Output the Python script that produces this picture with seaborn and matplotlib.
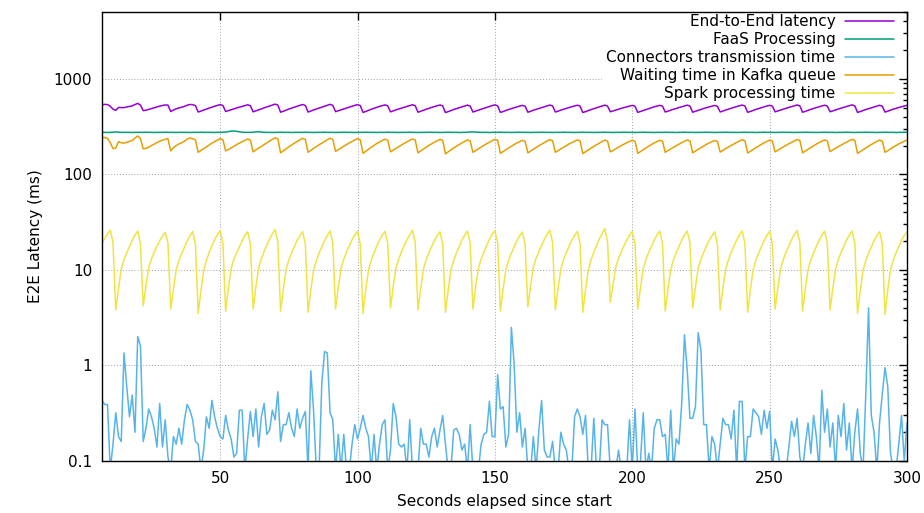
import pandas as pd
import matplotlib
matplotlib.use('Agg')
import matplotlib.pyplot as plt
import seaborn as sns
from matplotlib.ticker import LogLocator, FuncFormatter, NullFormatter, NullLocator, FixedLocator

# one sample per second, 7 s .. 300 s
seconds = list(range(7, 301))

e2e_ms = [
    535, 540, 537, 516, 481,
    467, 501, 499, 500, 507, 514, 521, 538, 553, 530,
    464, 469, 478, 488, 497, 508, 517, 526, 532, 530,
    455, 471, 485, 496, 504, 514, 529, 538, 536, 524,
    449, 459, 471, 482, 493, 505, 516, 526, 537, 525,
    455, 464, 474, 485, 495, 504, 514, 524, 534, 523,
    451, 462, 474, 484, 496, 507, 519, 531, 543, 531,
    447, 457, 470, 482, 493, 505, 515, 527, 538, 526,
    449, 459, 472, 482, 494, 504, 516, 528, 540, 527,
    453, 463, 474, 485, 495, 506, 517, 527, 536, 524,
    445, 455, 468, 480, 491, 503, 514, 524, 533, 522,
    451, 461, 473, 483, 494, 504, 515, 525, 535, 523,
    447, 457, 469, 480, 491, 502, 512, 523, 532, 521,
    443, 453, 465, 477, 487, 498, 508, 519, 530, 518,
    449, 459, 470, 481, 491, 502, 513, 524, 533, 522,
    445, 454, 466, 477, 487, 497, 508, 518, 527, 516,
    447, 457, 469, 479, 490, 500, 511, 522, 531, 520,
    449, 458, 470, 480, 490, 501, 510, 520, 529, 518,
    444, 453, 465, 476, 486, 497, 508, 519, 530, 518,
    452, 460, 471, 480, 491, 500, 510, 519, 527, 516,
    445, 455, 466, 477, 487, 498, 509, 518, 527, 517,
    449, 458, 469, 480, 489, 500, 509, 520, 530, 518,
    447, 457, 468, 478, 488, 499, 508, 518, 526, 515,
    450, 459, 471, 481, 491, 501, 512, 521, 531, 519,
    446, 455, 467, 478, 488, 499, 509, 519, 528, 517,
    451, 461, 471, 482, 491, 502, 512, 522, 532, 520,
    447, 456, 468, 479, 489, 500, 510, 520, 529, 518,
    452, 461, 472, 483, 492, 503, 513, 523, 533, 521,
    445, 454, 466, 477, 487, 497, 508, 519, 528, 517,
    448, 458, 470, 481, 490, 501, 510, 520, 528,
]

faas_ms = [
    275, 275, 274, 275, 276, 278, 276, 275, 275, 275,
    275, 274, 275, 275, 275, 275, 276, 275, 275, 274,
    275, 275, 275, 276, 275, 275, 275, 274, 275, 275,
    275, 275, 274, 275, 275, 275, 276, 275, 275, 275,
    275, 274, 275, 275, 276, 277, 280, 283, 284, 282,
    279, 276, 275, 275, 275, 276, 278, 279, 277, 275,
    275, 275, 274, 275, 275, 276, 275, 275, 275, 274,
    275, 275, 275, 275, 276, 275, 275, 274, 275, 275,
    275, 276, 275, 275, 275, 274, 275, 275, 276, 275,
    275, 275, 274, 275, 275, 275, 276, 275, 275, 275,
    274, 275, 275, 275, 276, 275, 275, 275, 274, 275,
    275, 275, 276, 275, 275, 274, 275, 275, 275, 276,
    275, 275, 275, 274, 275, 275, 276, 275, 275, 275,
    274, 275, 275, 276, 277, 278, 277, 276, 275, 275,
    275, 274, 275, 275, 275, 276, 275, 275, 275, 274,
    275, 275, 276, 275, 275, 275, 274, 275, 275, 275,
    276, 275, 275, 275, 274, 275, 275, 275, 276, 275,
    275, 275, 274, 275, 275, 276, 275, 275, 275, 274,
    275, 275, 275, 276, 275, 275, 274, 275, 275, 275,
    276, 275, 275, 275, 274, 275, 275, 276, 275, 275,
    275, 274, 275, 275, 275, 276, 275, 275, 275, 274,
    275, 275, 276, 275, 275, 275, 274, 275, 275, 275,
    276, 275, 275, 274, 275, 275, 275, 276, 275, 275,
    275, 274, 275, 275, 276, 275, 275, 275, 274, 275,
    275, 276, 275, 275, 275, 274, 275, 275, 276, 275,
    275, 275, 274, 275, 275, 275, 276, 275, 275, 275,
    274, 275, 275, 276, 275, 275, 275, 274, 275, 275,
    275, 276, 275, 275, 274, 275, 275, 275, 276, 275,
    275, 275, 274, 275, 275, 276, 275, 275, 275, 274,
    275, 275, 276, 275,
]

# values under 0.1 fall below the axis floor, as in the original
connectors_ms = [
    0.43, 0.39, 0.39, 0.08, 0.15, 0.32, 0.18, 0.16, 1.35, 0.6,
    0.29, 0.49, 0.2, 2.0, 1.6, 0.16, 0.22, 0.35, 0.29, 0.22,
    0.14, 0.40, 0.14, 0.27, 0.11, 0.08, 0.18, 0.15, 0.22, 0.15,
    0.27, 0.39, 0.34, 0.27, 0.16, 0.15, 0.08, 0.13, 0.29, 0.22,
    0.43, 0.29, 0.22, 0.18, 0.17, 0.30, 0.21, 0.17, 0.11, 0.12,
    0.34, 0.34, 0.08, 0.17, 0.33, 0.18, 0.35, 0.14, 0.29, 0.40,
    0.19, 0.21, 0.34, 0.27, 0.53, 0.16, 0.24, 0.24, 0.32, 0.22,
    0.18, 0.35, 0.22, 0.28, 0.33, 0.08, 0.88, 0.34, 0.08, 0.08,
    0.65, 1.4, 1.35, 0.32, 0.27, 0.08, 0.19, 0.08, 0.19, 0.08,
    0.08, 0.15, 0.24, 0.17, 0.22, 0.30, 0.22, 0.18, 0.08, 0.19,
    0.08, 0.15, 0.24, 0.27, 0.08, 0.13, 0.40, 0.29, 0.15, 0.14,
    0.15, 0.08, 0.27, 0.08, 0.08, 0.08, 0.22, 0.15, 0.15, 0.11,
    0.18, 0.22, 0.14, 0.21, 0.30, 0.15, 0.08, 0.08, 0.21, 0.22,
    0.19, 0.13, 0.15, 0.08, 0.24, 0.08, 0.08, 0.08, 0.15, 0.19,
    0.20, 0.42, 0.18, 0.18, 0.8, 0.35, 0.37, 0.14, 0.19, 2.5,
    1.05, 0.20, 0.32, 0.14, 0.22, 0.08, 0.08, 0.18, 0.08, 0.21,
    0.43, 0.13, 0.11, 0.11, 0.16, 0.08, 0.08, 0.20, 0.15, 0.13,
    0.08, 0.08, 0.29, 0.35, 0.29, 0.19, 0.30, 0.08, 0.08, 0.28,
    0.08, 0.08, 0.27, 0.24, 0.24, 0.08, 0.08, 0.08, 0.13, 0.08,
    0.08, 0.08, 0.27, 0.08, 0.35, 0.08, 0.1, 0.32, 0.08, 0.12,
    0.08, 0.22, 0.27, 0.27, 0.18, 0.19, 0.08, 0.34, 0.08, 0.17,
    0.15, 0.40, 2.1, 0.9, 0.28, 0.28, 0.37, 2.2, 1.45, 0.24,
    0.24, 0.08, 0.18, 0.15, 0.08, 0.15, 0.28, 0.24, 0.24, 0.17,
    0.34, 0.08, 0.42, 0.42, 0.08, 0.18, 0.18, 0.35, 0.32, 0.29,
    0.19, 0.34, 0.22, 0.33, 0.08, 0.17, 0.13, 0.08, 0.08, 0.08,
    0.14, 0.26, 0.18, 0.28, 0.11, 0.08, 0.15, 0.25, 0.12, 0.3,
    0.18, 0.08, 0.55, 0.2, 0.35, 0.14, 0.25, 0.08, 0.3, 0.18,
    0.4, 0.13, 0.25, 0.08, 0.2, 0.35, 0.12, 0.08, 0.5, 4.0,
    0.3, 0.2, 0.08, 0.25, 0.5, 0.95, 0.6, 0.12, 0.08, 0.08,
    0.15, 0.3, 0.1, 0.25,
]

kafka_ms = [
    241, 243, 238, 215, 186,
    188, 220, 214, 212, 217, 221, 226, 240, 252, 236,
    185, 187, 192, 200, 207, 215, 222, 228, 232, 236,
    176, 190, 200, 208, 214, 222, 234, 240, 236, 230,
    170, 178, 186, 194, 203, 212, 220, 228, 236, 231,
    176, 182, 189, 197, 205, 212, 219, 226, 234, 229,
    172, 180, 188, 196, 205, 214, 223, 232, 241, 236,
    168, 176, 185, 194, 203, 212, 220, 229, 238, 232,
    170, 178, 187, 195, 204, 212, 221, 230, 239, 233,
    174, 181, 189, 197, 205, 213, 221, 229, 236, 230,
    166, 174, 183, 192, 201, 210, 218, 226, 233, 228,
    172, 179, 187, 195, 203, 211, 219, 227, 234, 229,
    168, 176, 184, 192, 201, 209, 217, 225, 232, 227,
    164, 172, 180, 189, 197, 205, 213, 221, 229, 224,
    170, 177, 185, 193, 201, 209, 217, 225, 232, 228,
    166, 173, 181, 189, 197, 205, 213, 220, 227, 222,
    168, 175, 183, 191, 199, 207, 215, 223, 230, 225,
    170, 177, 185, 192, 200, 208, 215, 222, 229, 224,
    165, 172, 180, 188, 196, 204, 212, 220, 228, 223,
    172, 178, 185, 192, 200, 207, 214, 221, 227, 222,
    166, 173, 181, 189, 197, 205, 213, 220, 227, 223,
    170, 177, 184, 192, 199, 207, 214, 222, 229, 224,
    168, 175, 183, 190, 198, 206, 213, 220, 226, 221,
    171, 178, 186, 193, 201, 208, 216, 223, 230, 225,
    167, 174, 182, 190, 198, 206, 214, 221, 228, 223,
    172, 179, 186, 194, 201, 209, 216, 224, 231, 226,
    168, 175, 183, 191, 199, 207, 215, 222, 229, 224,
    173, 180, 187, 195, 202, 210, 217, 225, 232, 227,
    166, 173, 181, 189, 197, 205, 213, 221, 228, 223,
    170, 177, 185, 193, 200, 208, 215, 222, 228,
]

spark_ms = [
    19.0, 21.5, 23.8, 26.0, 19.5,
    3.8, 6.4, 10.2, 12.8, 15.1, 17.6, 20.4, 23.1, 25.5, 18.8,
    4.2, 6.8, 10.6, 13.0, 15.3, 17.8, 20.2, 22.6, 24.8, 19.2,
    3.9, 6.2, 10.0, 12.5, 14.8, 17.2, 20.0, 22.8, 25.2, 18.5,
    3.5, 6.0, 9.8, 12.6, 15.2, 17.9, 20.8, 23.4, 25.8, 19.0,
    3.7, 6.5, 10.3, 12.9, 15.0, 17.4, 20.1, 22.9, 25.0, 18.9,
    3.9, 6.6, 10.5, 13.1, 15.6, 18.2, 21.0, 23.9, 26.5, 19.6,
    3.7, 6.3, 10.1, 12.7, 15.0, 17.5, 20.3, 22.7, 25.1, 18.7,
    3.6, 6.1, 9.9, 12.4, 14.9, 17.3, 20.2, 23.0, 25.6, 19.1,
    3.9, 6.5, 10.4, 12.9, 15.4, 17.8, 20.6, 23.2, 25.4, 18.6,
    3.5, 6.2, 10.0, 12.6, 15.1, 17.7, 20.5, 23.1, 25.3, 19.0,
    4.0, 6.7, 10.5, 13.0, 15.5, 18.0, 20.7, 23.3, 25.9, 19.3,
    3.8, 6.4, 10.2, 12.8, 15.2, 17.6, 20.3, 22.8, 25.0, 18.8,
    3.6, 6.1, 9.9, 12.5, 15.0, 17.5, 20.4, 23.0, 25.5, 19.1,
    3.9, 6.6, 10.4, 13.0, 15.4, 18.0, 20.8, 23.5, 25.7, 19.4,
    3.7, 6.3, 10.1, 12.6, 15.0, 17.4, 20.1, 22.7, 24.9, 18.6,
    4.1, 6.8, 10.6, 13.2, 15.6, 18.1, 20.9, 23.6, 26.0, 19.5,
    3.8, 6.4, 10.2, 12.8, 15.2, 17.7, 20.4, 23.0, 25.3, 18.9,
    3.6, 6.2, 10.0, 12.7, 15.3, 18.0, 21.0, 24.0, 27.0, 19.8,
    4.6, 7.0, 10.7, 13.2, 15.5, 17.9, 20.5, 23.0, 25.2, 18.7,
    3.9, 6.5, 10.3, 12.9, 15.3, 17.8, 20.6, 23.2, 25.4, 19.0,
    3.7, 6.3, 10.1, 12.7, 15.1, 17.6, 20.4, 23.1, 25.5, 19.2,
    4.0, 6.6, 10.4, 12.9, 15.3, 17.7, 20.3, 22.8, 25.0, 18.6,
    3.8, 6.4, 10.2, 12.8, 15.2, 17.7, 20.5, 23.2, 25.6, 19.1,
    3.6, 6.2, 10.0, 12.6, 15.0, 17.5, 20.3, 23.0, 25.3, 18.9,
    3.9, 6.5, 10.3, 12.9, 15.4, 17.9, 20.7, 23.4, 25.8, 19.3,
    3.7, 6.3, 10.1, 12.7, 15.1, 17.6, 20.4, 23.1, 25.4, 19.0,
    3.8, 6.4, 10.2, 12.8, 15.2, 17.7, 20.5, 23.1, 25.5, 19.2,
    3.5, 6.1, 9.9, 12.5, 14.9, 17.4, 20.2, 22.8, 25.1, 18.8,
    3.4, 6.2, 10.0, 12.6, 15.1, 17.6, 20.3, 22.9, 25.0,
]

series_names = ['End-to-End latency', 'FaaS Processing', 'Connectors transmission time',
                'Waiting time in Kafka queue', 'Spark processing time']
series_colors = ['#9400d3', '#009e73', '#56b4e9', '#e69f00', '#f0e442']

df = pd.DataFrame({
    'Seconds': seconds,
    series_names[0]: e2e_ms,
    series_names[1]: faas_ms,
    series_names[2]: connectors_ms,
    series_names[3]: kafka_ms,
    series_names[4]: spark_ms,
})
long_df = df.melt(id_vars='Seconds', var_name='Series', value_name='Latency')

sns.set_style('white')
plt.rcParams['font.family'] = ['DejaVu Sans']
plt.rcParams['text.color'] = 'black'
plt.rcParams['axes.labelcolor'] = 'black'

fig, ax = plt.subplots(figsize=(9.24, 5.13), dpi=100)
fig.subplots_adjust(left=0.1104, right=0.9816, bottom=0.1014, top=0.9766)

sns.lineplot(data=long_df, x='Seconds', y='Latency', hue='Series', hue_order=series_names,
             palette=dict(zip(series_names, series_colors)), estimator=None, sort=False,
             linewidth=1.1, ax=ax)

ax.set_yscale('log')
ax.set_xlim(7, 300)
ax.set_ylim(0.1, 5000)

ax.xaxis.set_major_locator(FixedLocator([50, 100, 150, 200, 250, 300]))
ax.xaxis.set_minor_locator(NullLocator())
ax.yaxis.set_major_locator(LogLocator(base=10, numticks=12))
ax.yaxis.set_minor_locator(LogLocator(base=10, subs=range(2, 10), numticks=12))
ax.yaxis.set_major_formatter(FuncFormatter(lambda v, p: f'{v:g}'))
ax.yaxis.set_minor_formatter(NullFormatter())

ax.tick_params(which='both', direction='in', top=True, right=True, colors='black', labelsize=11)
ax.tick_params(which='major', length=6, width=1, pad=7)
ax.tick_params(which='minor', length=3, width=1)

ax.grid(True, which='major', color='#a0a0a0', linestyle=(0, (1, 2)), linewidth=0.7)
ax.set_axisbelow(True)
for sp in ax.spines.values():
    sp.set_color('black')
    sp.set_linewidth(1)

ax.set_xlabel('Seconds elapsed since start', fontsize=11, labelpad=6)
ax.set_ylabel('E2E Latency (ms)', fontsize=11, labelpad=8)

handles, labels = ax.get_legend_handles_labels()
leg = ax.legend(handles, labels, loc='upper right', bbox_to_anchor=(0.991, 1.009),
                markerfirst=False, frameon=True, facecolor='white', edgecolor='none',
                framealpha=1, fontsize=11, handlelength=3.2, handletextpad=0.6,
                labelspacing=0.2, borderaxespad=0.1, borderpad=0.3)
leg.set_zorder(1.5)  # opaque key hides the grid but stays under the data lines
for line in leg.get_lines():
    line.set_linewidth(1.1)

fig.savefig('out.png', dpi=100)
